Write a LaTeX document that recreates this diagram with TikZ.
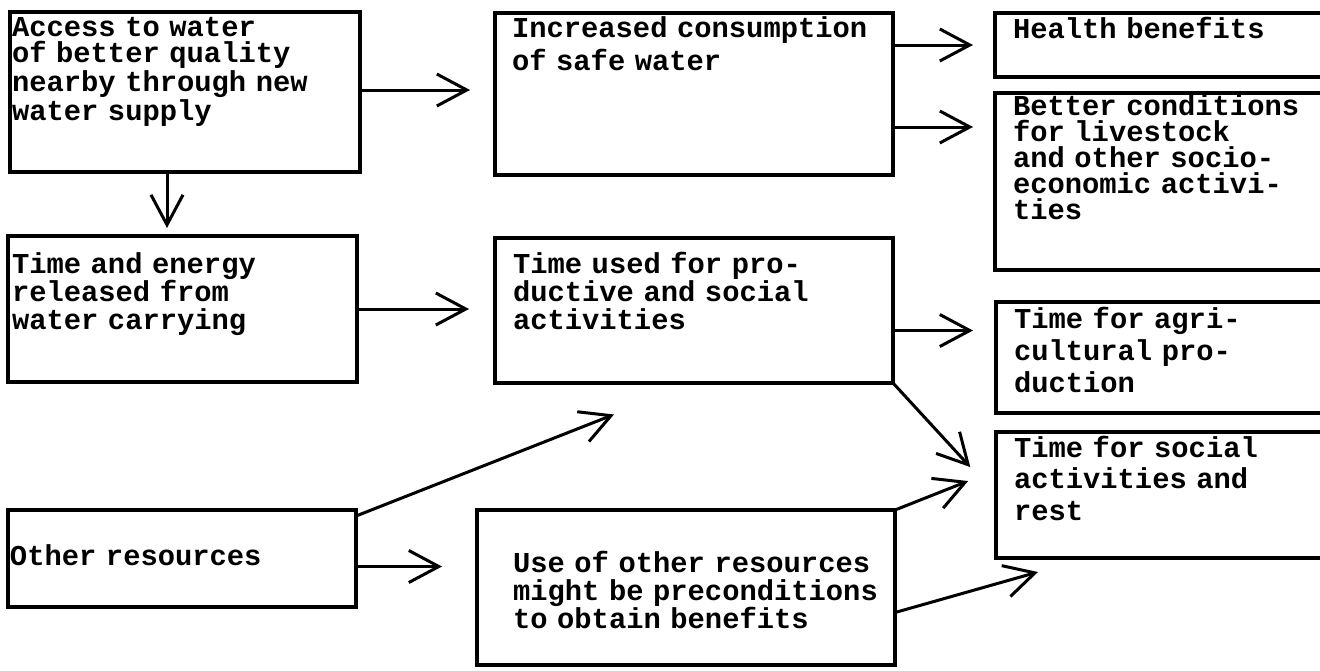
\documentclass[tikz,border=0pt]{standalone}
\usepackage{fontspec}
\setmainfont{Liberation Mono}
\usetikzlibrary{arrows.meta,positioning}
\hyphenpenalty=10000

\begin{document}
\begin{tikzpicture}[
x=0.5pt,y=-0.5pt,
blk/.style={draw,line width=1.7pt,anchor=north west,inner ysep=0pt,outer sep=0pt,align=left,font=\fontsize{14.4}{14}\selectfont\bfseries},
lsp/.style={font=\fontsize{14.4}{#1}\selectfont\bfseries},
arr/.style={-{Straight Barb[length=15pt,width=16pt]},line width=1.5pt}
]
\useasboundingbox (0,0) rectangle (1320,670);
\clip (0,0) rectangle (1320,670);

% left column
\node[blk,lsp=13.25pt,inner xsep=1pt,text width=173pt,text height=12pt,text depth=68pt] (access) at (10,12) {Access to water\\of better quality\\nearby through new\\water supply};
\node[blk,inner xsep=2pt,text width=170.5pt,text height=18.5pt,text depth=54.5pt] (energy) at (8,236) {Time and energy\\released from\\water carrying};
\node[blk,inner xsep=1pt,text width=172pt,text height=27.5pt,text depth=21pt] (other) at (8,510) {Other resources};

% middle column
\node[blk,lsp=16.5pt,inner xsep=8.5pt,text width=182pt,text height=12pt,text depth=69pt] (increased) at (495,13) {Increased consumption\\of safe water};
\node[blk,inner xsep=9pt,text width=181pt,text height=17.5pt,text depth=55pt] (timeused) at (495,238) {Time used for pro-\\ductive and social\\activities};
\node[blk,inner xsep=18pt,text width=173pt,text height=31pt,text depth=46.5pt] (usage) at (477,510) {Use~of~other~resources\\might~be~preconditions\\to obtain benefits};

% right column (open to the right)
\node[blk,inner xsep=9pt,text width=154.5pt,text height=12.5pt,text depth=19.5pt] (health) at (995,13) {Health benefits};
\node[blk,lsp=13pt,inner xsep=9pt,text width=154.5pt,text height=11pt,text depth=77.5pt] (better) at (995,93) {Better conditions\\for livestock\\and other socio-\\economic activi-\\ties};
\node[blk,lsp=16pt,inner xsep=9pt,text width=154pt,text height=13pt,text depth=42.5pt] (agri) at (996,302) {Time for agri-\\cultural pro-\\duction};
\node[blk,lsp=15.75pt,inner xsep=9pt,text width=154pt,text height=12.5pt,text depth=50.5pt] (social) at (996,432) {Time for social\\activities and\\rest};
\coordinate (restend) at (1038,572);

\draw[arr,shorten >=12.5pt] ([yshift=1pt]access.east) -- ([yshift=1pt]access.east -| increased.west);
\draw[arr,shorten >=4pt] ([xshift=-9pt]access.south) -- ([xshift=-9pt]access.south |- energy.north);
\draw[arr,shorten >=11pt] (increased.east |- health.west) -- (health.west);
\draw[arr,shorten >=11pt] ([yshift=24pt]increased.south east) -- ([yshift=24pt]increased.south east -| better.west);
\draw[arr,shorten >=13pt] (energy.east) -- (energy.east -| timeused.west);
\draw[arr,shorten >=11.5pt] ([yshift=-10pt]timeused.east) -- ([yshift=-10pt]timeused.east -| agri.west);
\draw[arr,shorten >=19pt] (timeused.south east) -- (social.west);
\draw[arr,shorten >=43pt] ([yshift=-3pt]other.north east) -- (timeused.south);
\draw[arr,shorten >=17.5pt] ([yshift=-4pt]other.east) -- ([yshift=-4pt]other.east -| usage.west);
\draw[arr,shorten >=15pt] (usage.north east) -- ([yshift=12.5pt]social.west);
\draw[arr] ([yshift=-12.5pt]usage.east) -- (restend);
\end{tikzpicture}
\end{document}
